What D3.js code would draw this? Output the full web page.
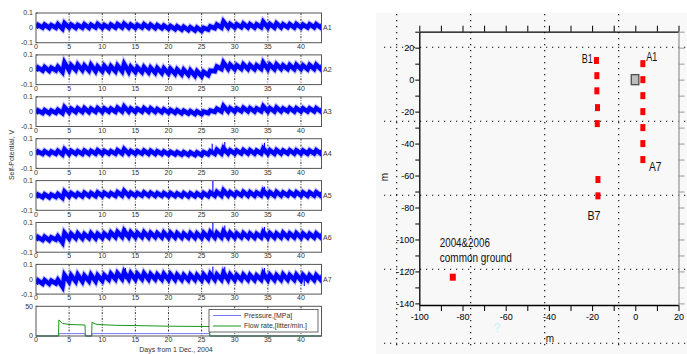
<!DOCTYPE html>
<html>
<head>
<meta charset="utf-8">
<script src="https://cdn.jsdelivr.net/npm/d3@7"></script>
<style>
  body { margin: 0; background: #fff; }
  svg { display: block; font-family: "Liberation Sans", Arial, sans-serif; }
</style>
</head>
<body>
<svg width="687" height="354"></svg>
<script>
// ---- left: self-potential records, one trough (day d) and one daily peak per day ----
const seriesNames = ["A1", "A2", "A3", "A4", "A5", "A6", "A7"];
const dayTicks = [0, 5, 10, 15, 20, 25, 30, 35, 40];
const spTicks = [-0.1, 0, 0.1];

const a1Lo = [0.000, 0.002, 0.000, 0.001, -0.006, 0.002, 0.000, 0.001, 0.000, 0.002, 0.001, 0.000, 0.002, 0.003, 0.001, 0.000, 0.002, 0.000, -0.002, -0.003, -0.006, -0.009, -0.012, -0.015, -0.018, -0.020, -0.012, -0.002, 0.002, 0.003, 0.002, 0.004, 0.003, 0.002, 0.004, 0.003, 0.002, 0.003, 0.004, 0.002, 0.003, 0.002, 0.003, 0.002];
const a1Hi = [0.020, 0.022, 0.018, 0.024, 0.032, 0.022, 0.020, 0.024, 0.021, 0.026, 0.020, 0.022, 0.025, 0.028, 0.022, 0.020, 0.024, 0.021, 0.018, 0.016, 0.012, 0.010, 0.007, 0.004, 0.002, 0.000, 0.010, 0.022, 0.042, 0.026, 0.024, 0.028, 0.025, 0.024, 0.040, 0.026, 0.030, 0.024, 0.025, 0.026, 0.022, 0.024, 0.025, 0.022];

const a2Lo = [-0.008, -0.006, -0.008, -0.005, -0.015, -0.004, -0.002, -0.003, -0.006, -0.010, -0.010, -0.008, -0.010, -0.010, -0.013, -0.015, -0.016, -0.018, -0.020, -0.022, -0.025, -0.028, -0.031, -0.034, -0.040, -0.043, -0.036, -0.010, 0.005, 0.006, 0.004, 0.006, 0.005, 0.004, 0.006, 0.005, 0.004, 0.006, 0.005, 0.004, 0.005, 0.004, 0.005, 0.004];
const a2Hi = [0.015, 0.018, 0.014, 0.020, 0.048, 0.030, 0.034, 0.028, 0.032, 0.022, 0.026, 0.024, 0.028, 0.040, 0.020, 0.016, 0.018, 0.014, 0.012, 0.010, 0.006, 0.002, 0.000, -0.004, -0.010, -0.014, -0.006, 0.022, 0.048, 0.034, 0.030, 0.036, 0.032, 0.030, 0.048, 0.034, 0.036, 0.030, 0.032, 0.034, 0.030, 0.032, 0.034, 0.030];

const a3Lo = [-0.012, -0.010, -0.011, -0.008, -0.010, -0.004, -0.003, -0.002, -0.003, -0.001, -0.002, 0.000, -0.001, 0.001, 0.000, -0.001, 0.000, -0.001, -0.002, -0.004, -0.006, -0.008, -0.011, -0.013, -0.016, -0.017, -0.010, -0.002, 0.001, 0.002, 0.001, 0.003, 0.002, 0.001, 0.003, 0.002, 0.001, 0.002, 0.003, 0.001, 0.002, 0.001, 0.002, 0.001];
const a3Hi = [0.008, 0.010, 0.008, 0.012, 0.030, 0.020, 0.022, 0.024, 0.020, 0.024, 0.022, 0.020, 0.026, 0.034, 0.022, 0.020, 0.024, 0.022, 0.018, 0.016, 0.012, 0.010, 0.006, 0.004, 0.002, 0.000, 0.008, 0.020, 0.038, 0.024, 0.022, 0.026, 0.024, 0.022, 0.036, 0.024, 0.028, 0.022, 0.024, 0.024, 0.022, 0.022, 0.024, 0.020];

const a4Lo = [-0.004, -0.003, -0.004, -0.002, -0.006, -0.003, -0.002, -0.003, -0.002, -0.001, -0.002, -0.001, -0.002, 0.000, -0.001, -0.002, -0.001, -0.002, -0.003, -0.004, -0.005, -0.006, -0.008, -0.009, -0.010, -0.010, -0.006, -0.002, 0.000, 0.001, 0.000, 0.001, 0.000, -0.001, 0.001, 0.000, -0.001, 0.000, 0.001, 0.000, 0.000, -0.001, 0.000, -0.001];
const a4Hi = [0.014, 0.016, 0.014, 0.018, 0.028, 0.018, 0.016, 0.020, 0.018, 0.022, 0.018, 0.016, 0.022, 0.030, 0.018, 0.016, 0.020, 0.018, 0.016, 0.014, 0.012, 0.010, 0.010, 0.008, 0.008, 0.010, 0.016, 0.026, 0.036, 0.022, 0.020, 0.024, 0.022, 0.020, 0.034, 0.022, 0.024, 0.020, 0.022, 0.022, 0.020, 0.020, 0.022, 0.018];

const a5Lo = [-0.014, -0.012, -0.013, -0.010, -0.016, -0.006, -0.005, -0.006, -0.004, -0.004, -0.003, -0.002, -0.003, -0.001, -0.002, -0.002, -0.001, -0.002, -0.003, -0.003, -0.004, -0.004, -0.005, -0.006, -0.006, -0.006, -0.004, -0.002, -0.001, 0.000, -0.001, 0.000, -0.001, -0.002, 0.000, -0.001, -0.002, -0.001, 0.000, -0.001, -0.001, -0.002, -0.001, -0.002];
const a5Hi = [0.006, 0.008, 0.006, 0.010, 0.026, 0.016, 0.014, 0.018, 0.016, 0.020, 0.018, 0.016, 0.022, 0.030, 0.018, 0.016, 0.020, 0.018, 0.016, 0.016, 0.016, 0.014, 0.016, 0.014, 0.014, 0.016, 0.020, 0.024, 0.034, 0.022, 0.020, 0.024, 0.022, 0.020, 0.032, 0.022, 0.024, 0.020, 0.022, 0.022, 0.020, 0.020, 0.022, 0.018];

const a6Lo = [-0.020, -0.018, -0.020, -0.016, -0.035, -0.008, -0.006, -0.007, -0.005, -0.006, -0.004, 0.000, 0.002, 0.003, 0.002, 0.001, 0.002, 0.000, 0.001, 0.000, -0.001, -0.001, -0.002, -0.002, -0.003, -0.003, -0.002, -0.001, 0.000, 0.000, -0.001, 0.000, -0.001, -0.002, 0.000, -0.001, -0.002, -0.001, 0.000, -0.001, -0.002, 0.000, -0.001, -0.001];
const a6Hi = [0.002, 0.004, 0.000, 0.006, 0.030, 0.024, 0.026, 0.022, 0.028, 0.024, 0.026, 0.032, 0.036, 0.044, 0.034, 0.030, 0.034, 0.030, 0.028, 0.032, 0.030, 0.028, 0.026, 0.028, 0.026, 0.030, 0.034, 0.030, 0.040, 0.030, 0.026, 0.028, 0.026, 0.024, 0.036, 0.028, 0.026, 0.030, 0.026, 0.028, 0.026, 0.024, 0.026, 0.024];

const a7Lo = [-0.032, -0.030, -0.031, -0.028, -0.050, -0.016, -0.014, -0.015, -0.012, -0.013, -0.010, -0.002, 0.000, 0.002, 0.001, 0.000, 0.001, -0.001, 0.000, -0.001, -0.002, -0.003, -0.004, -0.005, -0.004, -0.006, -0.004, -0.003, -0.002, -0.003, -0.004, -0.003, -0.004, -0.005, -0.003, -0.004, -0.005, -0.004, -0.003, -0.004, -0.006, -0.004, -0.005, -0.004];
const a7Hi = [-0.008, -0.006, -0.010, -0.004, 0.028, 0.026, 0.030, 0.024, 0.030, 0.026, 0.028, 0.036, 0.040, 0.048, 0.040, 0.036, 0.040, 0.034, 0.032, 0.036, 0.034, 0.030, 0.028, 0.030, 0.028, 0.032, 0.036, 0.032, 0.044, 0.032, 0.028, 0.030, 0.028, 0.026, 0.040, 0.030, 0.028, 0.032, 0.028, 0.030, 0.028, 0.026, 0.028, 0.026];

// isolated spikes: [day, value]
const a4Spikes = [[26.6, 0.066], [28.5, 0.077], [34.5, 0.072]];
const a5Spikes = [[26.7, 0.098], [28.5, 0.044], [34.5, 0.058]];
const a6Spikes = [[4.1, -0.06], [13.5, 0.062], [26.7, 0.1], [28.5, 0.08], [34.5, 0.07]];
const a7Spikes = [[4.1, -0.08], [13.5, 0.075], [26.7, 0.085], [28.5, 0.085], [34.5, 0.075], [40.5, -0.045]];

const seriesLo = [a1Lo, a2Lo, a3Lo, a4Lo, a5Lo, a6Lo, a7Lo];
const seriesHi = [a1Hi, a2Hi, a3Hi, a4Hi, a5Hi, a6Hi, a7Hi];
const seriesSpikes = [[], [], [], a4Spikes, a5Spikes, a6Spikes, a7Spikes];

// injection test
const flowDays = [0, 3.4, 3.45, 4, 5, 6, 7.4, 7.45, 8.4, 8.45, 9, 10, 12, 15, 20, 26.2, 26.25, 43.1];
const flowVals = [0, 0, 27, 21, 19.5, 19, 18.5, 0, 0, 23, 20, 19, 18, 17.5, 16.5, 16, 0, 0];
const pressDays = [0, 3.4, 3.45, 7.4, 7.45, 8.4, 8.45, 26.2, 26.25, 43.1];
const pressVals = [0, 0, 4, 4, 0, 0, 4, 4, 0, 0];
const flowTicks = [0, 50];

// ---- right: electrode map (m) ----
const bLineX = [-18, -17.8, -17.8, -17.5, -17.6, -17.3, -17.3];
const bLineY = [12, 2.5, -7, -17.5, -27.5, -62.5, -72.7];
const aLineX = [3.5, 3.5, 3.5, 3.5, 3.5, 3.5, 3.5];
const aLineY = [10, 0, -10, -20, -30, -40, -50];
const groundX = -84.5, groundY = -123.6;
const wellX = 0, wellY = 0;
const mapLabels = [
  { text: "B1", x: -22.2, y: 13.5, len: 11 },
  { text: "A1", x: 7.6, y: 14.3, len: 11 },
  { text: "A7", x: 9.2, y: -54.5, len: 12.5 },
  { text: "B7", x: -19.1, y: -84.7, len: 13 }
];

const svg = d3.select("svg");

// ================= left panel =================
const xDay = d3.scaleLinear().domain([0, 43.1]).range([36, 321.5]);
const panelH = 29.7;
const panelTop = i => 13 + i * 41.9;
const frame = "#555";
const tickGrey = "#333";

const drawFrame = (g, top, yScale, yTicks, yFmt) => {
  g.append("rect").attr("x", xDay.range()[0]).attr("y", top)
    .attr("width", xDay.range()[1] - xDay.range()[0]).attr("height", panelH)
    .attr("fill", "#fff");

  g.selectAll("line.grid").data(dayTicks.filter(d => d > 0)).join("line")
    .attr("x1", d => xDay(d)).attr("x2", d => xDay(d))
    .attr("y1", top).attr("y2", top + panelH)
    .attr("stroke", "#000").attr("stroke-width", 0.8).attr("stroke-dasharray", "2,1.5,0.8,1.5");

  g.selectAll("text.xt").data(dayTicks).join("text")
    .attr("x", d => xDay(d)).attr("y", top + panelH + 6.2)
    .attr("text-anchor", "middle").attr("font-size", 7).attr("fill", tickGrey)
    .text(d => d);

  g.selectAll("text.yt").data(yTicks).join("text")
    .attr("x", 33).attr("y", d => yScale(d) + 2.4)
    .attr("text-anchor", "end").attr("font-size", 7).attr("fill", tickGrey)
    .text(yFmt);

  g.selectAll("line.yt").data(yTicks).join("line")
    .attr("x1", xDay.range()[0]).attr("x2", xDay.range()[0] + 2)
    .attr("y1", d => yScale(d)).attr("y2", d => yScale(d))
    .attr("stroke", frame).attr("stroke-width", 0.8);
};

const drawBox = (g, top) => {
  g.append("rect").attr("x", xDay.range()[0]).attr("y", top)
    .attr("width", xDay.range()[1] - xDay.range()[0]).attr("height", panelH)
    .attr("fill", "none").attr("stroke", frame).attr("stroke-width", 1);
};

seriesNames.forEach((name, i) => {
  const top = panelTop(i);
  const y = d3.scaleLinear().domain([-0.1, 0.1]).range([top + panelH, top]);
  const g = svg.append("g");
  drawFrame(g, top, y, spTicks, d => d === 0 ? "0" : (d < 0 ? "-0.1" : "0.1"));

  const clipId = "clip" + i;
  g.append("clipPath").attr("id", clipId).append("rect")
    .attr("x", xDay.range()[0]).attr("y", top)
    .attr("width", xDay.range()[1] - xDay.range()[0]).attr("height", panelH);

  const lo = seriesLo[i], hi = seriesHi[i];
  const pts = lo.flatMap((v, d) => [[d, v], [d + 0.3, hi[d]]]);
  const line = d3.line().x(p => xDay(p[0])).y(p => y(p[1]));

  const plot = g.append("g").attr("clip-path", `url(#${clipId})`);
  plot.append("path").attr("d", line(pts)).attr("fill", "none")
    .attr("stroke", "#6a6aff").attr("stroke-opacity", 0.45).attr("stroke-width", 6.5)
    .attr("stroke-linejoin", "miter").attr("stroke-miterlimit", 3);
  plot.append("path").attr("d", line(pts)).attr("fill", "none")
    .attr("stroke", "#0000ff").attr("stroke-width", 4.4)
    .attr("stroke-linejoin", "miter").attr("stroke-miterlimit", 3);

  plot.selectAll("line.spike").data(seriesSpikes[i]).join("line")
    .attr("x1", d => xDay(d[0])).attr("x2", d => xDay(d[0]))
    .attr("y1", y(0)).attr("y2", d => y(d[1]))
    .attr("stroke", "#0000ff").attr("stroke-width", 1.1);

  drawBox(g, top);

  g.append("text").attr("x", xDay.range()[1] + 1.5).attr("y", y(0) + 2.5)
    .attr("font-size", 7).attr("fill", tickGrey).text(name);
});

// flow / pressure panel
{
  const top = panelTop(7);
  const y = d3.scaleLinear().domain([0, 50]).range([top + panelH, top]);
  const g = svg.append("g");
  drawFrame(g, top, y, flowTicks, d => d);

  const flowLine = d3.line().x((d, k) => xDay(flowDays[k])).y(d => y(d));
  const pressLine = d3.line().x((d, k) => xDay(pressDays[k])).y(d => y(d));

  g.append("path").attr("d", pressLine(pressVals)).attr("fill", "none")
    .attr("stroke", "#7878ff").attr("stroke-width", 1);
  g.append("path").attr("d", flowLine(flowVals)).attr("fill", "none")
    .attr("stroke", "#1a961a").attr("stroke-width", 1);

  drawBox(g, top);

  const lg = g.append("g");
  lg.append("rect").attr("x", 209).attr("y", 309.5).attr("width", 109).attr("height", 22.5)
    .attr("fill", "#fff").attr("stroke", "#444").attr("stroke-width", 0.8);
  const entries = [["Pressure,[MPa]", "#7878ff"], ["Flow rate,[litter/min.]", "#1a961a"]];
  entries.forEach(([t, c], k) => {
    const yy = 315.5 + k * 10.5;
    lg.append("line").attr("x1", 213).attr("x2", 241).attr("y1", yy).attr("y2", yy)
      .attr("stroke", c).attr("stroke-width", 1);
    lg.append("text").attr("x", 244).attr("y", yy + 2.4).attr("font-size", 7)
      .attr("fill", tickGrey).text(t);
  });
}

svg.append("text").attr("x", 176).attr("y", 352).attr("text-anchor", "middle")
  .attr("font-size", 7).attr("fill", tickGrey).text("Days from 1 Dec., 2004");
svg.append("text").attr("transform", "translate(14,155) rotate(-90)")
  .attr("text-anchor", "middle").attr("font-size", 7).attr("fill", tickGrey)
  .text("Self-Potential, V");

// ================= right panel =================
svg.append("rect").attr("x", 376).attr("y", 13).attr("width", 311).attr("height", 341)
  .attr("fill", "#f8f8f8");

// slide grid (dotted, independent of the axes)
const gridStep = 74;
const gridXs = d3.range(396.7, 687, gridStep);
const gridYs = d3.range(47.3, 354, gridStep);
svg.append("g").selectAll("line").data(gridXs).join("line")
  .attr("x1", d => d).attr("x2", d => d).attr("y1", 14).attr("y2", 346)
  .attr("stroke", "#000").attr("stroke-width", 1.1).attr("stroke-dasharray", "1.2,4.8");
svg.append("g").selectAll("line").data(gridYs).join("line")
  .attr("x1", 384).attr("x2", 687).attr("y1", d => d).attr("y2", d => d)
  .attr("stroke", "#000").attr("stroke-width", 1.1).attr("stroke-dasharray", "1.2,4.8");

const xM = d3.scaleLinear().domain([-100, 20]).range([419.3, 678.5]);
const yM = d3.scaleLinear().domain([-141, 30]).range([305, 31.7]);

const styleAxis = (g, color) => {
  g.select(".domain").attr("stroke", color).attr("stroke-width", 1.3);
  g.selectAll(".tick line").attr("stroke", color).attr("stroke-width", 1);
  g.selectAll(".tick text").attr("font-size", 9).attr("fill", "#000")
    .attr("font-family", "'Liberation Sans', Arial, sans-serif");
};
const xTickVals = d3.range(-100, 21, 10);
const yTickVals = d3.range(-140, 31, 10);
const lab20 = d => d % 20 === 0 ? String(d) : "";

svg.append("g").attr("transform", `translate(0,${yM.range()[0]})`)
  .call(d3.axisBottom(xM).tickValues(xTickVals).tickSize(6).tickSizeOuter(0).tickPadding(3).tickFormat(lab20))
  .call(g => styleAxis(g, "#000"));
svg.append("g").attr("transform", `translate(0,${yM.range()[1]})`)
  .call(d3.axisTop(xM).tickValues(xTickVals).tickSize(6).tickSizeOuter(0).tickFormat(""))
  .call(g => styleAxis(g, "#000"));
svg.append("g").attr("transform", `translate(${xM.range()[0]},0)`)
  .call(d3.axisLeft(yM).tickValues(yTickVals).tickSize(4).tickSizeOuter(0).tickPadding(1).tickFormat(lab20))
  .call(g => styleAxis(g, "#000"));
svg.append("g").attr("transform", `translate(${xM.range()[1]},0)`)
  .call(d3.axisRight(yM).tickValues(yTickVals).tickSize(6).tickSizeOuter(0).tickFormat(""))
  .call(g => styleAxis(g, "#999"));

// electrodes
const markW = 5, markH = 7;
const drawMarks = (xs, ys) => {
  svg.append("g").selectAll("rect").data(xs).join("rect")
    .attr("x", (d, k) => xM(d) - markW / 2).attr("y", (d, k) => yM(ys[k]) - markH / 2)
    .attr("width", markW).attr("height", markH).attr("fill", "#ff0000");
};
drawMarks(bLineX, bLineY);
drawMarks(aLineX, aLineY);
svg.append("rect").attr("x", xM(groundX) - 3).attr("y", yM(groundY) - 3.5)
  .attr("width", 6).attr("height", 7).attr("fill", "#ff0000");
svg.append("rect").attr("x", xM(wellX) - 4).attr("y", yM(wellY) - 5)
  .attr("width", 7.5).attr("height", 10).attr("fill", "#bdbdbd")
  .attr("stroke", "#555").attr("stroke-width", 1.4);

svg.append("g").selectAll("text").data(mapLabels).join("text")
  .attr("x", d => xM(d.x)).attr("y", d => yM(d.y) + 4.5)
  .attr("text-anchor", "middle").attr("font-size", 12)
  .attr("textLength", d => d.len).attr("lengthAdjust", "spacingAndGlyphs")
  .attr("fill", "#111").text(d => d.text);

svg.append("text").attr("x", xM(-90.5)).attr("y", yM(-101.4) + 5)
  .attr("font-size", 13).attr("textLength", 50).attr("lengthAdjust", "spacingAndGlyphs")
  .attr("fill", "#111").text("2004&2006");
svg.append("text").attr("x", xM(-90.5)).attr("y", yM(-112.3) + 3)
  .attr("font-size", 13).attr("textLength", 72).attr("lengthAdjust", "spacingAndGlyphs")
  .attr("fill", "#111").text("common ground");

svg.append("text").attr("transform", "translate(388,177) rotate(-90)")
  .attr("text-anchor", "middle").attr("font-size", 10).attr("fill", "#111").text("m");
svg.append("text").attr("x", 550).attr("y", 342).attr("text-anchor", "middle")
  .attr("font-size", 10).attr("fill", "#111").text("m");
svg.append("text").attr("x", 497).attr("y", 332).attr("text-anchor", "middle")
  .attr("font-size", 12).attr("fill", "#c8f0fa").text("?");
</script>
</body>
</html>
